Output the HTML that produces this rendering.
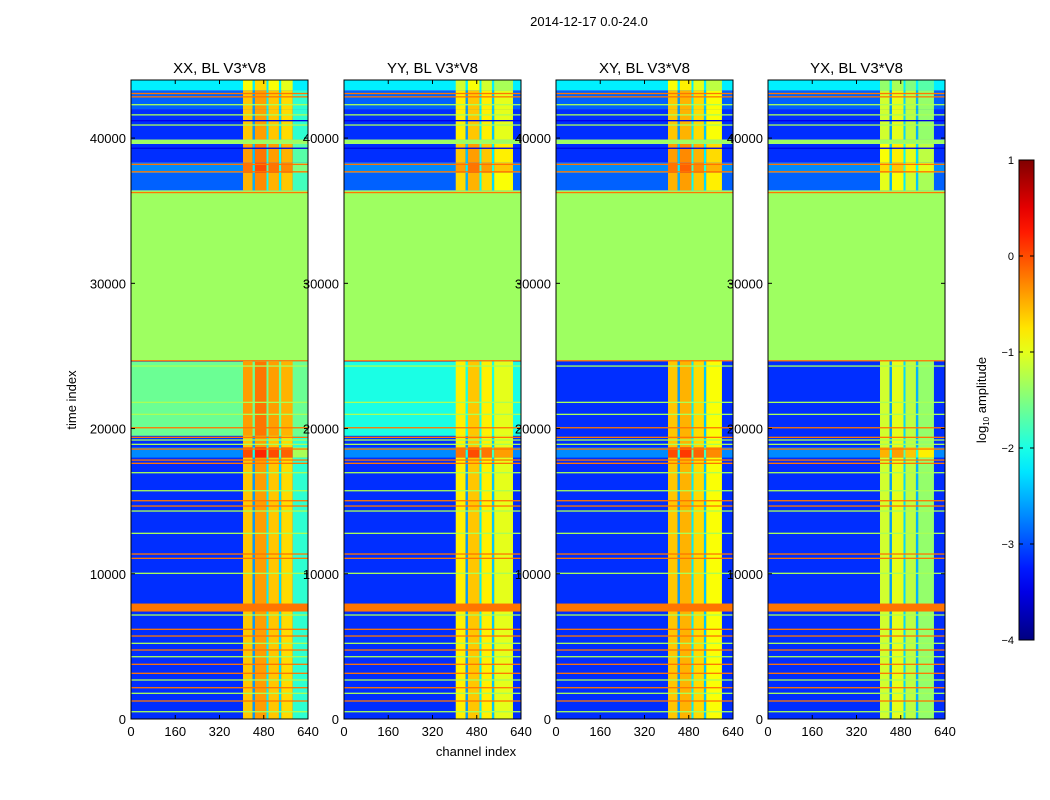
<!DOCTYPE html>
<html><head><meta charset="utf-8">
<style>
body{margin:0;background:#fff;}
svg{display:block;font-family:"Liberation Sans",sans-serif;}
</style></head>
<body>
<svg id="fig" width="1050" height="800" viewBox="0 0 1050 800">
<text x="589" y="26" font-size="13" text-anchor="middle">2014-12-17 0.0-24.0</text>
<text x="76" y="400" font-size="13" text-anchor="middle" transform="rotate(-90 76 400)">time index</text>
<text x="476" y="756" font-size="13" text-anchor="middle">channel index</text>
<g id="panels"></g>
<g id="cbar"></g>
<text x="986" y="400" font-size="13" text-anchor="middle" transform="rotate(-90 986 400)">log<tspan font-size="8" dy="3">10</tspan><tspan dy="-3"> amplitude</tspan></text>
</svg>
<script>
const titles = ["XX, BL V3*V8","YY, BL V3*V8","XY, BL V3*V8","YX, BL V3*V8"];
const xTicks = [0,160,320,480,640];
const yTicks = [0,10000,20000,30000,40000];
const cbTicks = [1,0,-1,-2,-3,-4];
// time regions: [t0, t1, lowChannelLevel, highChannelAdjust (null = flat)]
const baseRegions = [[0,24700,-3.15,0],[24700,36400,-1.35,null],[36400,37600,-2.9,0.1],[37600,38300,-2.7,0.4],[38300,39600,-3.15,0.2],[39600,39900,-1.35,null],[39900,42000,-3.15,0],[42000,43300,-2.9,0],[43300,44000,-2.2,-0.3],[18000,18700,-2.7,0.6],[7400,7950,-0.2,null]];
const xxRegions = [[19500,24600,-1.6,0.2]];
const yyRegions = [[19500,24600,-2.0,0.0]];
const xyRegions = [];
const yxRegions = [];
// channel bands: [c0, c1, level]
const xxChans = [[405,440,-0.6],[440,448,-2.6],[448,490,-0.4],[490,497,-2.2],[497,535,-0.6],[535,543,-2.3],[543,585,-0.7],[585,640,-1.9]];
const yyChans = [[404,440,-0.8],[440,448,-2.6],[448,490,-0.6],[490,497,-2.2],[497,535,-0.8],[535,543,-2.4],[543,611,-1.0]];
const xyChans = [[405,440,-0.6],[440,448,-2.6],[448,490,-0.5],[490,497,-2.2],[497,535,-0.7],[535,543,-2.4],[543,600,-0.9]];
const yxChans = [[405,440,-1.1],[440,448,-2.6],[448,490,-1.0],[490,497,-2.3],[497,535,-1.2],[535,543,-2.5],[543,600,-1.4]];
// horizontal flagged lines
const orangeLines = [1239,2155,3146,3766,4750,5714,6176,11063,11360,14665,15030,17604,17831,18589,19394,20055,24667,36250,37680,38190,42840,43070];
const greenLines = [502,1769,2685,4289,5211,7160,10031,12785,14320,15718,16960,18912,19210,20977,21803,24303,40900,41600,42300];
const blueLines = [39300,41200];
const orangeValue = -0.2, greenValue = -1.3, blueValue = -3.5;

const panelRegions = [xxRegions,yyRegions,xyRegions,yxRegions];
const panelChans = [xxChans,yyChans,xyChans,yxChans];
const lefts=[131,344,556,768], W=177, TOP=80, BOT=719, TMAX=44000, CMAX=640;
const NS="http://www.w3.org/2000/svg";
function jet(v){const t=Math.max(0,Math.min(1,(v+4)/5));
 const c=x=>Math.round(255*Math.max(0,Math.min(1,x)));
 return `rgb(${c(1.5-Math.abs(4*t-3))},${c(1.5-Math.abs(4*t-2))},${c(1.5-Math.abs(4*t-1))})`;}
function el(tag,attrs,parent){const e=document.createElementNS(NS,tag);for(const k in attrs)e.setAttribute(k,attrs[k]);parent.appendChild(e);return e;}
const panels=document.getElementById('panels');
titles.forEach((title,p)=>{
 const L=lefts[p];
 const xs=c=>L+c/CMAX*W, ys=t=>BOT-t/TMAX*(BOT-TOP);
 const g=el('g',{},panels);
 
 
 const img=el('g',{},g);
 
 
 const regs=baseRegions.slice(0,10).concat(panelRegions[p]).concat([baseRegions[10]]);
 const chans=panelChans[p];
 regs.forEach(r=>{
  const y0=ys(r[1]), h=ys(r[0])-ys(r[1]);
  const rc=el('rect',{x:L,y:y0,width:W,height:h,fill:jet(r[2])},img);
  
  
  if(r[3]!==null){chans.forEach(c=>{
   const v=Math.max(r[2],c[2]+r[3]);
   const cc=el('rect',{x:xs(c[0]),y:y0,width:xs(c[1])-xs(c[0]),height:h,fill:jet(v)},img);
   
   
  });}
 });
 const drawLines=(arr,val,name)=>arr.forEach(t=>{
  const ln=el('rect',{x:L,y:ys(t+45),width:W,height:ys(t-45)-ys(t+45),fill:jet(val)},img);
  
  
 });
 drawLines(greenLines,greenValue,'green-line');
 drawLines(orangeLines,orangeValue,'orange-line');
 drawLines(blueLines,blueValue,'blue-line');
 const fr=el('rect',{x:L,y:TOP,width:W,height:BOT-TOP,fill:'none',stroke:'#000','stroke-width':1},g);
 
 
 xTicks.forEach(v=>{const x=xs(v);
  el('line',{x1:x,x2:x,y1:BOT,y2:BOT-4,stroke:'#000'},g);
  el('line',{x1:x,x2:x,y1:TOP,y2:TOP+4,stroke:'#000'},g);
  const t=el('text',{x:x,y:BOT+17,'font-size':13,'text-anchor':'middle'},g);t.textContent=v;
  
  
 });
 yTicks.forEach(v=>{const y=ys(v);
  el('line',{x1:L,x2:L+4,y1:y,y2:y,stroke:'#000'},g);
  el('line',{x1:L+W,x2:L+W-4,y1:y,y2:y,stroke:'#000'},g);
  const t=el('text',{x:L-5,y:y+5,'font-size':13,'text-anchor':'end'},g);t.textContent=v;
  
  
 });
 const tt=el('text',{x:L+W/2,y:73,'font-size':15,'text-anchor':'middle'},g);tt.textContent=title;
 
 
});
// colorbar
const cb=document.getElementById('cbar');
const CX=1019,CW=15,CT=160,CB=640;
const defs=el('defs',{},cb);
const grad=el('linearGradient',{id:'jetg',x1:0,y1:1,x2:0,y2:0},defs);
for(let i=0;i<=20;i++){el('stop',{offset:i/20,'stop-color':jet(-4+5*i/20)},grad);}
const cr=el('rect',{x:CX,y:CT,width:CW,height:CB-CT,fill:'url(#jetg)',stroke:'#000','stroke-width':1},cb);


cbTicks.forEach(v=>{const y=CB-(v+4)/5*(CB-CT);
 el('line',{x1:CX,x2:CX+4,y1:y,y2:y,stroke:'#000'},cb);
 el('line',{x1:CX+CW,x2:CX+CW-4,y1:y,y2:y,stroke:'#000'},cb);
 const t=el('text',{x:CX-5,y:y+4,'font-size':11,'text-anchor':'end'},cb);t.textContent=v<0?'\u2212'+(-v):v;
 
 
});
</script>
</body></html>
